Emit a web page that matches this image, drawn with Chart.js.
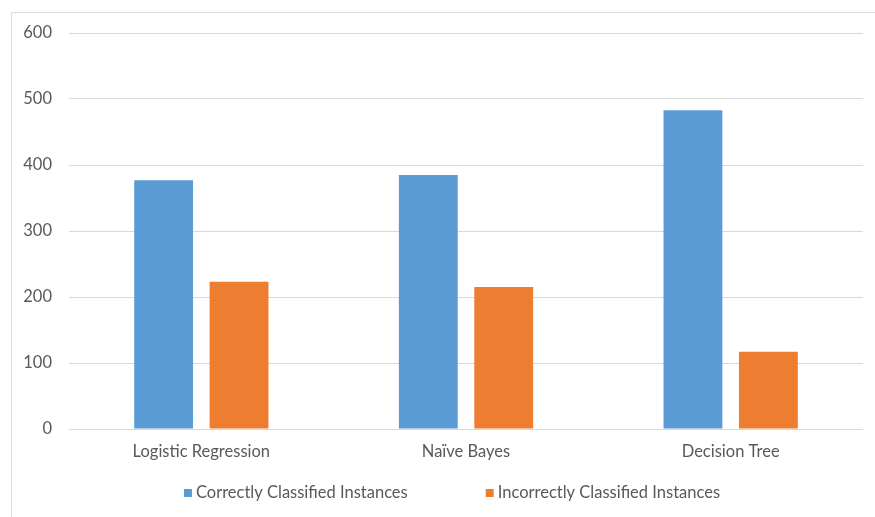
<!DOCTYPE html>
<html>
<head>
<meta charset="utf-8">
<script src="https://cdn.jsdelivr.net/npm/chart.js@4/dist/chart.umd.min.js"></script>
<style>
  html, body { margin: 0; padding: 0; background: #ffffff; }
  #wrap { width: 875px; height: 517px; position: relative; }
</style>
</head>
<body>
<div id="wrap"><canvas id="c" width="875" height="517"></canvas></div>
<script>
// Classifier results: instances classified correctly vs. incorrectly
const categories = ['Logistic Regression', 'Naïve Bayes', 'Decision Tree'];
const correctlyClassified = [377, 385, 483];
const incorrectlyClassified = [223, 215, 117];
const seriesNames = ['Correctly Classified Instances', 'Incorrectly Classified Instances'];
const yTicks = [0, 100, 200, 300, 400, 500, 600];

const BLUE = '#5B9BD5';
const ORANGE = '#ED7D31';
const TEXT = '#595959';
const GRID = '#d9d9d9';
const FONT = 'Lato, "Open Sans", sans-serif';
const FONT_SIZE = 16.5;

// Light outer frame around the chart
const framePlugin = {
  id: 'frame',
  beforeDraw(chart) {
    const ctx = chart.ctx;
    ctx.save();
    ctx.fillStyle = '#ffffff';
    ctx.fillRect(0, 0, chart.width, chart.height);
    ctx.strokeStyle = '#dcdcdc';
    ctx.lineWidth = 1;
    ctx.beginPath();
    ctx.moveTo(11.5, chart.height + 2);
    ctx.lineTo(11.5, 12.5);
    ctx.lineTo(chart.width + 2, 12.5);
    ctx.stroke();
    ctx.restore();
  }
};

// Bottom legend with wide spacing between entries
const legendPlugin = {
  id: 'wideLegend',
  afterDraw(chart) {
    const ctx = chart.ctx;
    const ds = chart.data.datasets;
    const box = 8, gap = 4, spacer = 78, cy = 493, center = 452;
    ctx.save();
    ctx.font = FONT_SIZE + 'px ' + FONT;
    ctx.textBaseline = 'middle';
    const widths = ds.map(d => ctx.measureText(d.label).width);
    let total = 0;
    widths.forEach((w, i) => { total += box + gap + w + (i < widths.length - 1 ? spacer : 0); });
    let x = center - total / 2;
    ds.forEach((d, i) => {
      ctx.fillStyle = d.backgroundColor;
      ctx.fillRect(x, cy - box / 2, box, box);
      x += box + gap;
      ctx.fillStyle = TEXT;
      ctx.fillText(d.label, x, cy);
      x += widths[i] + spacer;
    });
    ctx.restore();
  }
};

new Chart(document.getElementById('c'), {
  type: 'bar',
  data: {
    labels: categories,
    datasets: [
      { label: seriesNames[0], data: correctlyClassified, backgroundColor: BLUE },
      { label: seriesNames[1], data: incorrectlyClassified, backgroundColor: ORANGE }
    ]
  },
  options: {
    responsive: false,
    animation: false,
    events: [],
    layout: { padding: { left: 0, top: 33, right: 12, bottom: 0 } },
    categoryPercentage: 0.57,
    barPercentage: 0.78,
    plugins: {
      legend: { display: false },
      tooltip: { enabled: false }
    },
    scales: {
      x: {
        grid: { display: false },
        border: { display: false },
        ticks: { color: TEXT, font: { family: FONT, size: FONT_SIZE }, padding: 5, maxRotation: 0 },
        afterFit(s) { s.height = 88; }
      },
      y: {
        min: 0,
        max: 600,
        afterBuildTicks(s) { s.ticks = yTicks.map(v => ({ value: v })); },
        grid: { color: GRID, lineWidth: 1, drawTicks: false },
        border: { display: false },
        ticks: { color: TEXT, font: { family: FONT, size: FONT_SIZE }, padding: 17 },
        afterFit(s) { s.width = 69; }
      }
    }
  },
  plugins: [framePlugin, legendPlugin]
});
</script>
</body>
</html>
